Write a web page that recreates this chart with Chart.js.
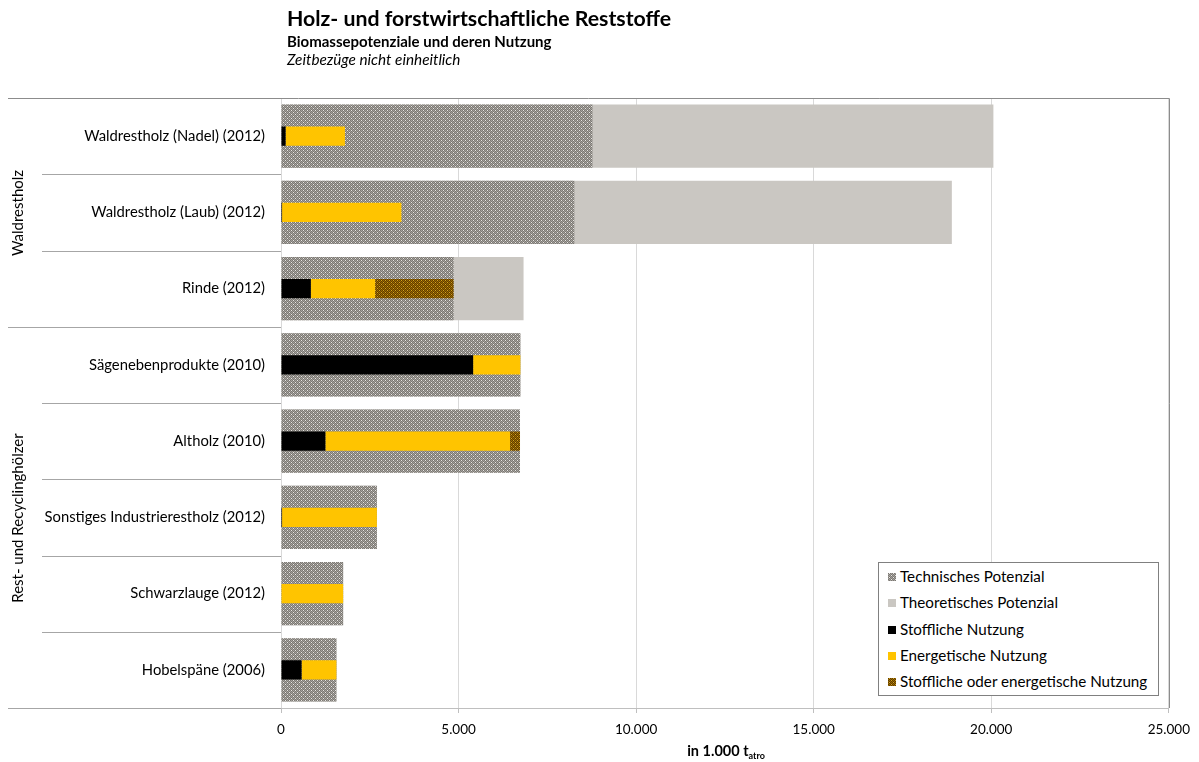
<!DOCTYPE html>
<html>
<head>
<meta charset="utf-8">
<script src="https://cdn.jsdelivr.net/npm/chart.js@4"></script>
<style>
  html, body { margin: 0; padding: 0; background: #fff; }
  #wrap { position: relative; width: 1199px; height: 762px; font-family: Lato, "Open Sans", sans-serif; color: #000; }
  canvas { position: absolute; left: 0; top: 0; }
  .t1 { position: absolute; left: 287px; top: 5px; font-size: 21.3px; font-weight: bold; white-space: nowrap; }
  .t2 { position: absolute; left: 287px; top: 32px; font-size: 15px; font-weight: bold; white-space: nowrap; }
  .t3 { position: absolute; left: 287px; top: 50px; font-size: 15.3px; font-style: italic; white-space: nowrap; }
  .xt { position: absolute; left: 626px; width: 200px; text-align: center; top: 742px; font-size: 14.5px; font-weight: bold; white-space: nowrap; }
  .xt sub { font-size: 9px; vertical-align: -3px; }
  #legend { position: absolute; left: 878px; top: 562px; width: 281px; height: 134px; border: 1px solid #808080; box-sizing: border-box; background: #fff; }
  .li { position: absolute; left: 9px; font-size: 15.2px; white-space: nowrap; }
  .sw { display: inline-block; width: 8px; height: 8px; margin-right: 4px; vertical-align: 1px; }
</style>
</head>
<body>
<div id="wrap">
  <canvas id="c" width="1199" height="762"></canvas>
  <div class="t1">Holz- und forstwirtschaftliche Reststoffe</div>
  <div class="t2">Biomassepotenziale und deren Nutzung</div>
  <div class="t3">Zeitbezüge nicht einheitlich</div>
  <div class="xt">in 1.000 t<sub>atro</sub></div>
  <div id="legend"></div>
</div>
<script>
// ---- data ----
const categories = [
  "Waldrestholz (Nadel) (2012)",
  "Waldrestholz (Laub) (2012)",
  "Rinde (2012)",
  "Sägenebenprodukte (2010)",
  "Altholz (2010)",
  "Sonstiges Industrierestholz (2012)",
  "Schwarzlauge (2012)",
  "Hobelspäne (2006)"
];
const groupNames = ["Waldrestholz", "Rest- und Recyclinghölzer"];
const groupSizes = [3, 5];
const technical   = [8770, 8260, 4860, 6740, 6730, 2700, 1750, 1560];
const theoretical = [20060, 18890, 6830, 6740, 6730, 2700, 1750, 1560];
const stofflich   = [130, 30, 840, 5410, 1250, 30, 0, 580];
const energetisch = [1670, 3360, 1810, 1330, 5200, 2670, 1750, 980];
const beides      = [0, 0, 2210, 0, 280, 0, 0, 0];
const xTicks = [0, 5000, 10000, 15000, 20000, 25000];
const seriesNames = ["Technisches Potenzial", "Theoretisches Potenzial", "Stoffliche Nutzung", "Energetische Nutzung", "Stoffliche oder energetische Nutzung"];

// ---- patterns ----
function makeTile(d, m, l) {
  const t = document.createElement('canvas');
  t.width = 4; t.height = 4;
  const c = t.getContext('2d');
  const map = [
    [d, l, d, m],
    [m, d, m, d],
    [d, m, d, l],
    [m, d, m, d]
  ];
  for (let y = 0; y < 4; y++) for (let x = 0; x < 4; x++) { c.fillStyle = map[y][x]; c.fillRect(x, y, 1, 1); }
  return t;
}
const ctx = document.getElementById('c').getContext('2d');
const techTile = makeTile('#7b7873', '#a5a29d', '#e8e6e2');
const brownTile = makeTile('#5e3d00', '#9c6a00', '#d9a41c');
const techPattern = ctx.createPattern(techTile, 'repeat');
const brownPattern = ctx.createPattern(brownTile, 'repeat');
const colors = [techPattern, '#cac7c2', '#000000', '#ffc400', brownPattern];
const swatchCss = [
  'url(' + techTile.toDataURL() + ')',
  '#cac7c2', '#000000', '#ffc400',
  'url(' + brownTile.toDataURL() + ')'
];

// ---- legend (HTML) ----
const legendEl = document.getElementById('legend');
seriesNames.forEach((n, i) => {
  const d = document.createElement('div');
  d.className = 'li';
  d.style.top = (4 + i * 26.3) + 'px';
  const s = document.createElement('span');
  s.className = 'sw';
  s.style.background = swatchCss[i];
  d.appendChild(s);
  d.appendChild(document.createTextNode(n));
  legendEl.appendChild(d);
});

function fmt(v) { return String(v).replace(/\B(?=(\d{3})+(?!\d))/g, '.'); }

const sepPlugin = {
  id: 'sep',
  afterDraw(chart) {
    const c = chart.ctx, y = chart.scales.y, a = chart.chartArea;
    const step = y.getPixelForValue(1) - y.getPixelForValue(0);
    const b = i => Math.round(y.getPixelForValue(i) - step / 2) + 0.5;
    c.save();
    c.lineWidth = 1;
    c.strokeStyle = '#8c8c8c';
    c.beginPath(); c.moveTo(8, b(0)); c.lineTo(Math.round(a.right) + 0.5, b(0)); c.stroke();
    c.beginPath(); c.moveTo(Math.round(a.right) + 0.5, b(0)); c.lineTo(Math.round(a.right) + 0.5, a.bottom); c.stroke();
    c.strokeStyle = '#a6a6a6';
    let gEnds = [], acc = 0;
    groupSizes.forEach(s => { acc += s; gEnds.push(acc); });
    for (let i = 1; i <= categories.length; i++) {
      const x0 = gEnds.includes(i) ? 8 : 42;
      c.beginPath(); c.moveTo(x0, b(i)); c.lineTo(a.left, b(i)); c.stroke();
    }
    c.fillStyle = '#000';
    c.font = '15px Lato, "Open Sans", sans-serif';
    c.textAlign = 'center';
    c.textBaseline = 'middle';
    let start = 0;
    groupSizes.forEach((s, gi) => {
      const cy = (b(start) + b(start + s)) / 2;
      c.save();
      c.translate(18, cy);
      c.rotate(-Math.PI / 2);
      c.fillText(groupNames[gi], 0, 0);
      c.restore();
      start += s;
    });
    c.restore();
  }
};

const common = { categoryPercentage: 1, grouped: false, borderWidth: 0 };
new Chart(ctx, {
  type: 'bar',
  data: {
    labels: categories,
    datasets: [
      Object.assign({ label: seriesNames[0], data: technical, backgroundColor: colors[0], stack: 'tech', order: 2, barPercentage: 0.83 }, common),
      Object.assign({ label: seriesNames[1], data: theoretical, backgroundColor: colors[1], stack: 'theo', order: 3, barPercentage: 0.83 }, common),
      Object.assign({ label: seriesNames[2], data: stofflich, backgroundColor: colors[2], stack: 'use', order: 1, barPercentage: 0.25 }, common),
      Object.assign({ label: seriesNames[3], data: energetisch, backgroundColor: colors[3], stack: 'use', order: 1, barPercentage: 0.25 }, common),
      Object.assign({ label: seriesNames[4], data: beides, backgroundColor: colors[4], stack: 'use', order: 1, barPercentage: 0.25 }, common)
    ]
  },
  options: {
    indexAxis: 'y',
    responsive: false,
    animation: false,
    layout: { padding: { top: 98, right: 27, left: 0, bottom: 0 } },
    plugins: { legend: { display: false }, tooltip: { enabled: false } },
    scales: {
      x: {
        stacked: true, min: 0, max: 25000,
        afterBuildTicks: s => { s.ticks = xTicks.map(v => ({ value: v })); },
        afterFit: s => { s.height = 54; },
        grid: { color: '#d9d9d9', tickColor: '#bfbfbf', tickLength: 5, drawTicks: true },
        border: { color: '#bfbfbf' },
        ticks: { color: '#000', font: { family: 'Lato', size: 13.5 }, padding: 9, maxRotation: 0, callback: v => fmt(v) }
      },
      y: {
        stacked: true,
        afterFit: s => { s.width = 281; },
        grid: { display: false },
        border: { display: false },
        ticks: { color: '#000', font: { family: 'Lato', size: 14.8 }, padding: 8 }
      }
    }
  },
  plugins: [sepPlugin]
});
</script>
</body>
</html>
